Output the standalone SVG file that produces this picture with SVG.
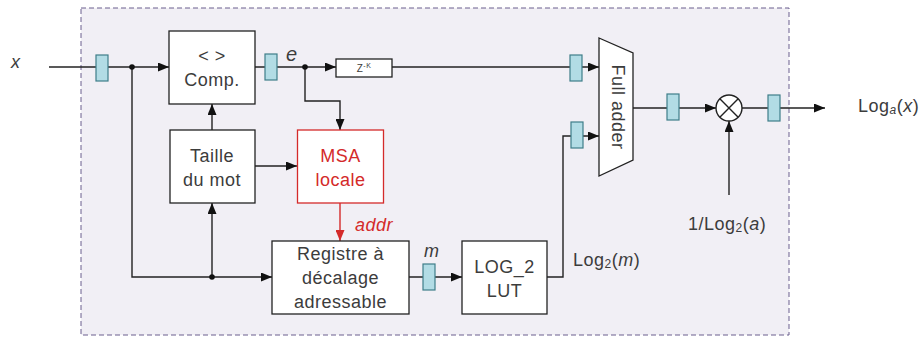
<svg xmlns="http://www.w3.org/2000/svg" width="920" height="337" viewBox="0 0 920 337">
<style>
  .frame{fill:#f1eff5;stroke:#6a5f8e;stroke-width:1;stroke-dasharray:5,3}
  .box{fill:#ffffff;stroke:#222;stroke-width:1.3}
  .red{fill:#ffffff;stroke:#d42a2a;stroke-width:1.3}
  .reg{fill:#b2dce5;stroke:#3e7d89;stroke-width:1.2}
  .ln{fill:none;stroke:#222;stroke-width:1.4}
  .lr{fill:none;stroke:#d42a2a;stroke-width:1.4}
  text{font-family:"Liberation Sans",Arial,sans-serif;font-size:18px;fill:#3c3c3c;letter-spacing:0.5px}
  .c{text-anchor:middle}
  .i{font-style:italic}
  .rt{fill:#d42a2a}
</style>
<defs>
  <marker id="ah" markerUnits="userSpaceOnUse" markerWidth="11" markerHeight="9" refX="11" refY="4.5" orient="auto">
    <path d="M0,0 L11,4.5 L0,9 z" fill="#111"/>
  </marker>
  <marker id="ahr" markerUnits="userSpaceOnUse" markerWidth="11" markerHeight="9" refX="11" refY="4.5" orient="auto">
    <path d="M0,0 L11,4.5 L0,9 z" fill="#d42a2a"/>
  </marker>
</defs>
<rect class="frame" x="81" y="8" width="708" height="327"/>

<g id="connectors">
  <path class="ln" d="M49,67 H169" marker-end="url(#ah)"/>
  <path class="ln" d="M255,67 H336" marker-end="url(#ah)"/>
  <path class="ln" d="M392,67 H599" marker-end="url(#ah)"/>
  <path class="ln" d="M305,67 V101 H340 V130" marker-end="url(#ah)"/>
  <path class="ln" d="M212,130 V104" marker-end="url(#ah)"/>
  <path class="ln" d="M255,166 H297" marker-end="url(#ah)"/>
  <path class="lr" d="M340,203 V241" marker-end="url(#ahr)"/>
  <path class="ln" d="M132,67 V277 H272" marker-end="url(#ah)"/>
  <path class="ln" d="M212,277 V203" marker-end="url(#ah)"/>
  <path class="ln" d="M409,277 H462" marker-end="url(#ah)"/>
  <path class="ln" d="M547,277 H563 V136 H599" marker-end="url(#ah)"/>
  <path class="ln" d="M633,108 H716" marker-end="url(#ah)"/>
  <path class="ln" d="M742,108 H825" marker-end="url(#ah)"/>
  <path class="ln" d="M729,195 V121" marker-end="url(#ah)"/>
  <circle cx="132" cy="67" r="2.8" fill="#111"/>
  <circle cx="305" cy="67" r="2.8" fill="#111"/>
  <circle cx="212" cy="277" r="2.8" fill="#111"/>
</g>

<g id="registers">
  <rect class="reg" x="96" y="55" width="12" height="26"/>
  <rect class="reg" x="265" y="54" width="12" height="26"/>
  <rect class="reg" x="570" y="55" width="12" height="26"/>
  <rect class="reg" x="571" y="122" width="12" height="26"/>
  <rect class="reg" x="423" y="264" width="12" height="26"/>
  <rect class="reg" x="667" y="94" width="12" height="26"/>
  <rect class="reg" x="768" y="95" width="12" height="26"/>
</g>

<g id="comp">
  <rect class="box" x="169" y="31" width="86" height="73"/>
  <text class="c" x="212" y="62">&lt; &gt;</text>
  <text class="c" x="212" y="86">Comp.</text>
</g>
<g id="zk">
  <rect class="box" x="336" y="59" width="56" height="18"/>
  <text class="c" x="364" y="72" style="font-size:10px">Z<tspan dy="-4" style="font-size:7px">-K</tspan></text>
</g>
<g id="taille">
  <rect class="box" x="170" y="130" width="85" height="73"/>
  <text class="c" x="212" y="162">Taille</text>
  <text class="c" x="212" y="186">du mot</text>
</g>
<g id="msa">
  <rect class="red" x="297.5" y="130" width="86" height="73"/>
  <text class="c rt" x="340.5" y="162">MSA</text>
  <text class="c rt" x="340.5" y="186">locale</text>
</g>
<g id="registre">
  <rect class="box" x="272" y="241" width="137" height="73"/>
  <text class="c" x="340.5" y="260">Registre à</text>
  <text class="c" x="340.5" y="284">décalage</text>
  <text class="c" x="340.5" y="308">adressable</text>
</g>
<g id="lut">
  <rect class="box" x="462" y="241" width="85" height="73"/>
  <text class="c" x="504.5" y="273">LOG_2</text>
  <text class="c" x="504.5" y="297">LUT</text>
</g>
<g id="adder">
  <path class="box" d="M599,38 L633,53 L633,160 L599,176 z"/>
  <text class="c" transform="translate(612,107) rotate(90)">Full adder</text>
</g>
<g id="mult">
  <circle cx="729" cy="108" r="13" fill="#fff" stroke="#222" stroke-width="1.4"/>
  <path class="ln" d="M719.8,98.8 L738.2,117.2 M738.2,98.8 L719.8,117.2"/>
</g>

<g id="labels">
  <text class="i" x="11" y="68">x</text>
  <text class="i" x="286" y="61" style="font-size:20px">e</text>
  <text class="i" x="424" y="257">m</text>
  <text class="i rt" x="355" y="231">addr</text>
  <text x="573" y="266">Log<tspan style="font-size:12px" dy="2">2</tspan><tspan dy="-2">(</tspan><tspan class="i">m</tspan>)</text>
  <text x="858" y="112">Log<tspan class="i" style="font-size:12px" dy="2">a</tspan><tspan dy="-2">(</tspan><tspan class="i">x</tspan>)</text>
  <text x="688" y="230">1/Log<tspan style="font-size:12px" dy="2">2</tspan><tspan dy="-2">(</tspan><tspan class="i">a</tspan>)</text>
</g>
</svg>
